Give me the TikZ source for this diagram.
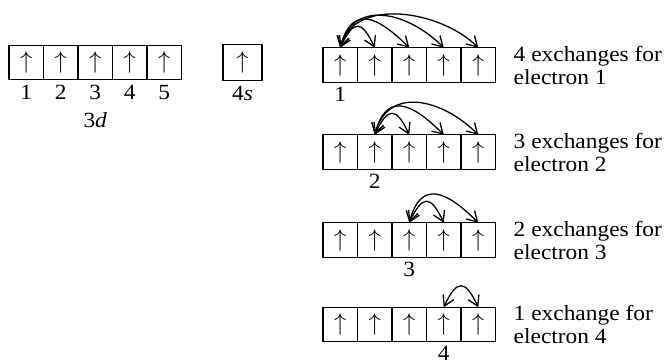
\documentclass[tikz,border=0pt]{standalone}
\usepackage{fontspec}
\setmainfont{Liberation Serif}[FakeStretch=1.08]
\usepackage{tikz}
\usetikzlibrary{positioning,arrows.meta}
\tikzset{
  orbital-box/.style={draw, line width=0.9pt, minimum width=1.035cm, minimum height=1.035cm,
    inner sep=0pt, outer sep=0pt, font=\fontsize{20.74}{22}\selectfont},
  exchange-arrow/.style={{Straight Barb[length=3mm,width=3.6mm]}-{Straight Barb[length=3mm,width=3.6mm]},
    line width=1.1pt},
  number-label/.style={font=\fontsize{18.5}{20}\selectfont, inner sep=1pt},
  caption-text/.style={font=\fontsize{18.5}{19.6}\selectfont, align=left, inner sep=0pt}
}

\begin{document}
\begin{tikzpicture}[x=0.03cm, y=0.03cm]
\useasboundingbox (0,0) rectangle (666,364);
% 3d and 4s orbitals
\foreach \b in {1,...,5} {
  \node[orbital-box] (d\b) at ({-8.25+34.5*\b}, 301.5) {$\uparrow$};
  \node[number-label, below=0.12cm of d\b] (d\b-num) {\b};
}
\node[number-label] (d-name) at (95.25, 244) {3\textit{d}};
\node[orbital-box, minimum width=1.17cm, minimum height=1.08cm] (s4) at (242.5, 301.5) {$\uparrow$};
\node[number-label, below=0.12cm of s4] (s4-name) {4\textit{s}};
% exchange rows
\foreach \r/\y in {1/299, 2/212, 3/124, 4/39.5} {
  \foreach \b in {1,...,5}
    \node[orbital-box] (r\r b\b) at ({305.75+34.5*\b}, \y) {$\uparrow$};
  \node[number-label, below=0.1cm of r\r b\r] (r\r-num) {\r};
}
\node[caption-text, right=0.54cm of r1b5] (cap1) {4 exchanges for\\electron 1};
\node[caption-text, right=0.54cm of r2b5] (cap2) {3 exchanges for\\electron 2};
\node[caption-text, right=0.54cm of r3b5] (cap3) {2 exchanges for\\electron 3};
\node[caption-text, right=0.54cm of r4b5] (cap4) {1 exchange for\\electron 4};
% exchange arcs
\draw[exchange-arrow] (r1b1.north) to[out=65,in=115,distance=0.93cm] (r1b2.north);
\draw[exchange-arrow] (r1b1.north) to[out=75,in=135,distance=1.35cm] (r1b3.north);
\draw[exchange-arrow] (r1b1.north) to[out=75,in=135,distance=1.53cm] (r1b4.north);
\draw[exchange-arrow] (r1b1.north) to[out=75,in=135,distance=1.59cm] (r1b5.north);
\draw[exchange-arrow] (r2b2.north) to[out=65,in=115,distance=0.93cm] (r2b3.north);
\draw[exchange-arrow] (r2b2.north) to[out=75,in=135,distance=1.35cm] (r2b4.north);
\draw[exchange-arrow] (r2b2.north) to[out=75,in=135,distance=1.53cm] (r2b5.north);
\draw[exchange-arrow] (r3b3.north) to[out=65,in=115,distance=0.93cm] (r3b4.north);
\draw[exchange-arrow] (r3b3.north) to[out=75,in=135,distance=1.35cm] (r3b5.north);
\draw[exchange-arrow] (r4b4.north) to[out=65,in=115,distance=0.93cm] (r4b5.north);
\end{tikzpicture}
\end{document}
